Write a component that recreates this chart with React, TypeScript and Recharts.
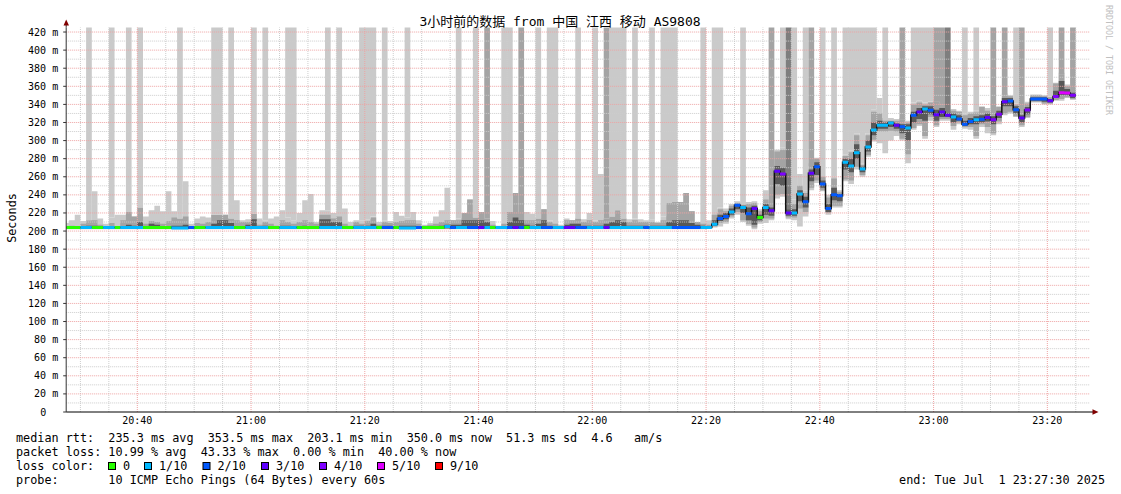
import React from 'react'
import { ComposedChart, Area, Line, XAxis, YAxis, ReferenceLine } from 'recharts'

// graph window: 3 hours ending 23:27:30, one bucket per minute
const START = '20:27:30'
const SPAN_MIN = 180
const TOP = 425

const X_LABELS = ['20:40', '21:00', '21:20', '21:40', '22:00', '22:20', '22:40', '23:00', '23:20']
const X_MINOR = ['20:30', '20:35', '20:45', '20:50', '20:55', '21:05', '21:10', '21:15', '21:25', '21:30', '21:35',
  '21:45', '21:50', '21:55', '22:05', '22:10', '22:15', '22:25', '22:30', '22:35', '22:45', '22:50', '22:55',
  '23:05', '23:10', '23:15', '23:25']
const Y_TICKS = [0, 20, 40, 60, 80, 100, 120, 140, 160, 180, 200, 220, 240, 260, 280, 300, 320, 340, 360, 380, 400, 420]
const Y_MINOR = [10, 30, 50, 70, 90, 110, 130, 150, 170, 190, 210, 230, 250, 270, 290, 310, 330, 350, 370, 390, 410]

// median rtt (ms) per minute bucket
const MEDIAN = [
  204, 204, 204, 204, 204, 204, 204, 204, 204, 204,
  204, 204, 204, 204, 204, 204, 204, 204, 204, 203.5,
  203.5, 203.5, 204, 204, 204, 204, 204, 204, 204, 204,
  204, 204, 204, 204, 204, 204, 204, 204, 204, 204,
  204, 204, 204, 204, 204, 204, 204, 204, 204, 204,
  204, 204, 204, 204, 204, 204, 204, 204, 204, 203.5,
  203.5, 203.5, 204, 204, 204, 204, 204, 205, 204, 204,
  204, 204, 204, 204, 204, 204, 204, 204, 204, 204,
  204, 204, 204, 204, 204, 204, 204, 204, 204, 204,
  204, 204, 204, 204, 204, 204, 204, 204, 204, 204,
  204, 204, 204, 204, 204, 204, 204, 204, 204, 204,
  204, 204, 204, 204, 207.5, 214, 216, 221, 228.5, 226,
  219, 225, 215, 226, 222.5, 266, 263, 220, 220, 241,
  232.5, 264, 271, 252, 225, 240, 239, 276, 272, 286.6,
  268.6, 293, 311.7, 317, 317, 319.4, 317, 315.4, 314, 328,
  331.6, 335, 333.5, 328.6, 331.6, 328, 326, 324, 318, 321,
  323, 323.7, 325.5, 323, 329, 343, 343.8, 334, 325, 333.8,
  346, 346, 346, 344, 348.6, 353, 352.6, 350,
]

// lost pings out of 10 (index into LOSS_COLORS)
const LOSS = [
  0, 0, 0, 1, 1, 0, 0, 1, 1, 0,
  1, 1, 1, 1, 0, 0, 0, 0, 0, 1,
  1, 1, 2, 0, 0, 1, 1, 1, 1, 1,
  0, 0, 1, 1, 1, 1, 0, 0, 1, 1,
  1, 0, 0, 0, 0, 1, 1, 1, 1, 0,
  0, 1, 1, 1, 1, 0, 2, 2, 0, 1,
  1, 1, 2, 0, 0, 0, 0, 1, 2, 1,
  1, 2, 2, 3, 1, 0, 1, 1, 2, 3,
  2, 0, 1, 1, 2, 2, 1, 1, 3, 3,
  2, 2, 1, 1, 1, 3, 1, 1, 1, 1,
  1, 1, 2, 1, 1, 1, 1, 2, 2, 2,
  2, 2, 1, 1, 1, 2, 2, 1, 2, 1,
  2, 3, 0, 1, 3, 3, 4, 3, 1, 1,
  2, 3, 2, 2, 2, 2, 2, 1, 1, 1,
  1, 1, 1, 1, 1, 1, 3, 2, 1, 2,
  3, 1, 2, 3, 3, 3, 1, 2, 2, 2,
  1, 2, 3, 4, 4, 3, 2, 2, 3, 4,
  2, 2, 2, 3, 4, 5, 5, 4,
]

// smoke reaching the top of the graph: 0 none, 1 light, 2 medium, 3 dark
const TALL = [
  0, 0, 0, 0, 1, 0, 0, 0, 1, 0,
  0, 1, 0, 1, 0, 0, 0, 0, 0, 0,
  1, 0, 0, 0, 0, 0, 1, 1, 0, 1,
  0, 0, 0, 1, 0, 1, 0, 0, 0, 1,
  1, 0, 0, 0, 0, 0, 1, 0, 1, 0,
  0, 0, 1, 1, 1, 0, 1, 0, 0, 0,
  1, 0, 0, 0, 0, 0, 0, 0, 0, 1,
  0, 0, 1, 0, 2, 0, 0, 1, 1, 0,
  2, 0, 0, 1, 0, 1, 1, 0, 0, 0,
  1, 0, 0, 1, 0, 2, 1, 1, 1, 0,
  1, 0, 0, 1, 0, 1, 1, 1, 0, 0,
  0, 0, 1, 0, 1, 1, 0, 0, 0, 1,
  0, 0, 0, 0, 2, 0, 1, 3, 1, 0,
  1, 2, 0, 1, 0, 1, 0, 1, 1, 1,
  1, 1, 1, 0, 1, 0, 0, 2, 0, 1,
  1, 1, 1, 2, 2, 3, 0, 0, 1, 0,
  1, 0, 0, 2, 0, 2, 0, 1, 2, 0,
  0, 0, 0, 1, 0, 2, 0, 2,
]

// outer (light) smoke band
const LO = [
  202, 202, 202, 202, 202, 202, 202, 202, 202, 202,
  202, 202, 202, 202, 202, 202, 202, 202, 202, 202,
  202, 202, 202, 202, 202, 202, 202, 202, 202, 202,
  202, 202, 202, 202, 202, 202, 202, 202, 202, 202,
  202, 202, 202, 202, 202, 202, 202, 202, 202, 202,
  202, 202, 202, 202, 202, 202, 202, 202, 202, 202,
  202, 202, 202, 202, 202, 202, 202, 202, 202, 202,
  202, 202, 202, 202, 202, 202, 202, 202, 202, 202,
  202, 202, 202, 202, 202, 202, 202, 202, 202, 202,
  202, 202, 202, 202, 202, 202, 202, 202, 202, 202,
  202, 202, 202, 202, 202, 202, 202, 202, 202, 202,
  202, 202, 202, 203, 204, 205, 208, 214, 218, 210,
  206, 202, 208, 209, 212, 236, 238, 213, 212, 205,
  216, 245, 253, 244, 218, 226, 226, 255, 252, 268,
  260, 282, 299, 297, 286, 300, 305, 300, 275, 312,
  316, 302, 322, 315, 322, 322, 312, 318, 313, 312,
  302, 315, 308, 306, 318, 328, 330, 326, 315, 325,
  342, 342, 340, 340, 344, 344, 347, 345,
]
const HI = [
  209, 212, 218, 211, 212, 244, 214, 208, 215, 218,
  218, 221, 216, 226, 216, 223, 228, 222, 244, 222,
  214, 255, 208, 214, 216, 215, 218, 218, 218, 214,
  234, 212, 213, 219, 214, 212, 214, 216, 223, 215,
  212, 220, 234, 241, 210, 223, 223, 220, 220, 225,
  210, 212, 212, 213, 216, 210, 212, 211, 221, 217,
  215, 221, 212, 207, 209, 216, 223, 248, 212, 214,
  220, 235, 215, 221, 214, 211, 206, 210, 221, 242,
  221, 221, 219, 214, 224, 212, 210, 207, 214, 212,
  214, 213, 220, 212, 263, 214, 216, 223, 214, 213,
  214, 213, 212, 213, 210, 216, 231, 232, 232, 242,
  222, 210, 210, 212, 220, 226, 225, 230, 233, 232,
  232, 233, 224, 245, 232, 290, 292, 232, 235, 263,
  245, 275, 281, 262, 240, 260, 245, 285, 289, 308,
  275, 308, 334, 347, 325, 325, 324, 325, 322, 342,
  344, 342, 343, 345, 342, 334, 335, 333, 330, 332,
  333, 338, 336, 330, 338, 352, 350, 341, 333, 343,
  351, 351, 350, 349, 364, 375, 362, 357,
]

// middle (medium grey) smoke band
const MLO = [
  202.5, 202.5, 202.5, 202.5, 202.5, 202.5, 202.5, 202.5, 202.5, 202.5,
  202.5, 202.5, 202.5, 202.5, 202.5, 202.5, 202.5, 202.5, 202.5, 202.5,
  202.5, 202.5, 202.5, 202.5, 202.5, 202.5, 202.5, 202.5, 202.5, 202.5,
  202.5, 202.5, 202.5, 202.5, 202.5, 202.5, 202.5, 202.5, 202.5, 202.5,
  202.5, 202.5, 202.5, 202.5, 202.5, 202.5, 202.5, 202.5, 202.5, 202.5,
  202.5, 202.5, 202.5, 202.5, 202.5, 202.5, 202.5, 202.5, 202.5, 202.5,
  202.5, 202.5, 202.5, 202.5, 202.5, 202.5, 202.5, 202.5, 202.5, 202.5,
  202.5, 202.5, 202.5, 202.5, 202.5, 202.5, 202.5, 202.5, 202.5, 202.5,
  202.5, 202.5, 202.5, 202.5, 202.5, 202.5, 202.5, 202.5, 202.5, 202.5,
  202.5, 202.5, 202.5, 202.5, 202.5, 202.5, 202.5, 202.5, 202.5, 202.5,
  202.5, 202.5, 202.5, 202.5, 202.5, 202.5, 202.5, 202.5, 202.5, 202.5,
  202.5, 202.5, 202.5, 203, 205, 209, 210, 216, 221, 212,
  208, 204, 210, 214, 214, 240, 241, 215, 215, 225,
  221, 248, 256, 245, 220, 228, 228, 257, 256, 271,
  262, 284, 301, 310, 310, 311, 310, 302, 285, 314,
  318, 305, 326, 317, 324, 324, 316, 320, 315, 315,
  305, 318, 315, 308, 321, 330, 332, 327, 317, 326,
  343, 343, 341, 341, 345, 346, 348, 346,
]
const MHI = [
  204, 206, 205, 208, 212, 212, 207, 205, 209, 205,
  212, 221, 216, 226, 208, 211, 210, 208, 211, 215,
  214, 216, 205, 209, 208, 210, 218, 218, 218, 214,
  212, 210, 210, 219, 207, 210, 208, 206, 212, 210,
  208, 210, 212, 210, 208, 218, 218, 214, 216, 208,
  206, 210, 208, 211, 215, 207, 210, 209, 210, 211,
  212, 212, 208, 206, 207, 208, 210, 212, 212, 212,
  220, 235, 215, 221, 214, 207, 205, 208, 221, 242,
  221, 212, 212, 214, 224, 210, 208, 205, 212, 212,
  214, 210, 212, 210, 212, 214, 216, 223, 214, 210,
  212, 210, 210, 210, 209, 212, 231, 232, 232, 242,
  222, 210, 208, 207, 218, 224, 222, 228, 231, 229,
  230, 231, 222, 235, 230, 288, 290, 228, 230, 250,
  242, 272, 280, 260, 237, 258, 243, 283, 287, 306,
  273, 306, 332, 330, 322, 322, 322, 323, 320, 340,
  342, 340, 342, 343, 340, 332, 333, 332, 328, 330,
  331, 337, 333, 328, 337, 350, 349, 340, 332, 341,
  350, 350, 349, 348, 363, 373, 360, 356,
]

// inner (dark) smoke band
const DLO = [
  203, 203, 203, 203, 203, 203, 203, 203, 203, 203,
  203, 203, 203, 203, 203, 203, 203, 203, 203, 203,
  203, 203, 203, 203, 203, 203, 203, 203, 203, 203,
  203, 203, 203, 203, 203, 203, 203, 203, 203, 203,
  203, 203, 203, 203, 203, 203, 203, 203, 203, 203,
  203, 203, 203, 203, 203, 203, 203, 203, 203, 203,
  203, 203, 203, 203, 203, 203, 203, 203, 203, 203,
  203, 203, 203, 203, 203, 203, 203, 203, 203, 203,
  203, 203, 203, 203, 203, 203, 203, 203, 203, 203,
  203, 203, 203, 203, 203, 203, 203, 203, 203, 203,
  203, 203, 203, 203, 203, 203, 203, 203, 203, 203,
  203, 203, 203, 203, 206, 211, 213, 218, 224, 220,
  212, 207, 212, 218, 217, 252, 250, 217, 217, 233,
  226, 255, 262, 248, 221, 234, 233, 268, 265, 280,
  265, 288, 306, 313, 313, 315, 313, 308, 300, 320,
  324, 322, 329, 322, 326, 326, 320, 322, 316, 318,
  318, 320, 321, 318, 325, 338, 338, 330, 320, 329,
  344, 344, 343, 342, 347, 350, 350, 347,
]
const DHI = [
  203, 204, 204, 205, 206, 206, 204, 204, 205, 204,
  205, 207, 206, 210, 204, 208, 207, 204, 205, 206,
  206, 207, 204, 204, 205, 205, 208, 212, 212, 209,
  205, 205, 207, 213, 205, 206, 205, 204, 206, 206,
  205, 205, 206, 205, 205, 213, 213, 210, 210, 205,
  204, 206, 206, 206, 208, 204, 206, 206, 205, 206,
  206, 206, 205, 204, 205, 205, 206, 207, 207, 207,
  212, 212, 212, 212, 210, 205, 204, 205, 210, 215,
  212, 207, 206, 208, 212, 206, 205, 204, 207, 208,
  208, 206, 206, 206, 206, 208, 210, 212, 210, 206,
  206, 206, 206, 206, 206, 206, 210, 212, 212, 212,
  209, 207, 206, 205, 212, 218, 220, 225, 230, 228,
  226, 228, 218, 230, 226, 272, 270, 224, 224, 245,
  238, 268, 276, 256, 230, 248, 241, 280, 280, 296,
  271, 300, 320, 322, 320, 321, 319, 318, 318, 332,
  336, 338, 338, 334, 336, 331, 330, 328, 322, 325,
  327, 328, 330, 327, 333, 347, 347, 338, 328, 337,
  348, 348, 348, 346, 355, 366, 357, 353,
]

const LOSS_COLORS = ['#26ff00', '#00b8ff', '#0059ff', '#5e00ff', '#7e00ff', '#dd00ff', '#ff0000']
const LOSS_LABELS = ['0', '1/10', '2/10', '3/10', '4/10', '5/10', '9/10']
const SHADES = ['#cacaca', '#a4a4a4', '#7e7e7e', '#585858']

const FONT = "'DejaVu Sans Mono', 'Noto Sans CJK SC', monospace"
const MAJOR_GRID = '#eea3a3'
const MINOR_GRID = '#cdcdcd'
const LEGEND_SIZE = 11.8

function toMin(label: string) {
  const [h, m] = label.split(':').map(Number)
  const [sh, sm, ss] = START.split(':').map(Number)
  return h * 60 + m - (sh * 60 + sm + ss / 60)
}

const X_TICKS = X_LABELS.map(toMin)

// rows at each bucket's left and right edge so every series draws as steps;
// a third row per bucket breaks the loss-coloured segments so the joins stay black
const rows: any[] = []
MEDIAN.forEach((med, j) => {
  const edges = [Math.max(0, j - 0.5), j + 0.5, j + 0.5]
  edges.forEach((t, e) => {
    const row: any = {
      t,
      med,
      light: [LO[j], HI[j]],
      mid: [MLO[j], MHI[j]],
      dark: [DLO[j], DHI[j]],
      tall1: TALL[j] === 1 ? [HI[j], TOP] : [HI[j], HI[j]],
      tall2: TALL[j] === 2 ? [MHI[j], TOP] : [MHI[j], MHI[j]],
      tall3: TALL[j] === 3 ? [DHI[j], TOP] : [DHI[j], DHI[j]],
    }
    LOSS_COLORS.forEach((_, k) => {
      row['loss' + k] = e < 2 && LOSS[j] === k ? med : null
    })
    rows.push(row)
  })
})

const YTick = (props: any) => {
  const v = props.payload.value
  return (
    <text x={props.x} y={props.y} dy="0.35em" textAnchor="end" fontSize={10} fontFamily={FONT} fill="#000"
      style={{ whiteSpace: 'pre' }}>
      {v === 0 ? '0  ' : `${v} m`}
    </text>
  )
}

const legendLines = [
  'median rtt:  235.3 ms avg  353.5 ms max  203.1 ms min  350.0 ms now  51.3 ms sd  4.6   am/s',
  'packet loss: 10.99 % avg  43.33 % max  0.00 % min  40.00 % now',
]
const BOX_X = [108, 144, 202.5, 261, 319, 377, 435]

export default function App() {
  const textStyle = { whiteSpace: 'pre' as const }
  return (
    <div style={{ position: 'absolute', left: 0, top: 0, width: 1121, height: 494, background: '#fff' }}>
      <ComposedChart width={1121} height={494} data={rows} margin={{ top: 27.5, right: 31, bottom: 62, left: 0 }}>
        <XAxis
          type="number"
          dataKey="t"
          domain={[0, SPAN_MIN]}
          ticks={X_TICKS}
          tickFormatter={(v: number) => X_LABELS[X_TICKS.indexOf(v)] ?? ''}
          tickLine={false}
          tickSize={0}
          tickMargin={5}
          height={20}
          axisLine={{ stroke: '#000' }}
          tick={{ fontSize: 10, fontFamily: FONT, fill: '#000' }}
        />
        <YAxis
          type="number"
          domain={[0, TOP]}
          ticks={Y_TICKS}
          width={66.2}
          tickSize={3}
          tickMargin={5}
          axisLine={{ stroke: '#333' }}
          tickLine={{ stroke: '#333' }}
          tick={<YTick />}
          interval={0}
        />
        <Area dataKey="light" type="linear" fill={SHADES[0]} fillOpacity={1} stroke="none" isAnimationActive={false} />
        <Area dataKey="mid" type="linear" fill={SHADES[1]} fillOpacity={1} stroke="none" isAnimationActive={false} />
        <Area dataKey="dark" type="linear" fill={SHADES[3]} fillOpacity={1} stroke="none" isAnimationActive={false} />
        <Area dataKey="tall1" type="linear" fill={SHADES[0]} fillOpacity={1} stroke="none" isAnimationActive={false} />
        <Area dataKey="tall2" type="linear" fill={SHADES[1]} fillOpacity={1} stroke="none" isAnimationActive={false} />
        <Area dataKey="tall3" type="linear" fill={SHADES[2]} fillOpacity={1} stroke="none" isAnimationActive={false} />
        {Y_MINOR.map(v => (
          <ReferenceLine key={'ym' + v} y={v} stroke={MINOR_GRID} strokeDasharray="1 1" />
        ))}
        {X_MINOR.map(l => (
          <ReferenceLine key={'xm' + l} x={toMin(l)} stroke={MINOR_GRID} strokeDasharray="1 1" />
        ))}
        {Y_TICKS.filter(v => v > 0).map(v => (
          <ReferenceLine key={'yM' + v} y={v} stroke={MAJOR_GRID} strokeDasharray="1 1" />
        ))}
        {X_LABELS.map(l => (
          <ReferenceLine key={'xM' + l} x={toMin(l)} stroke={MAJOR_GRID} strokeDasharray="1 1" />
        ))}
        <Line dataKey="med" type="linear" stroke="#111" strokeWidth={1.5} dot={false} activeDot={false}
          isAnimationActive={false} />
        {LOSS_COLORS.map((c, k) => (
          <Line key={'loss' + k} dataKey={'loss' + k} type="linear" stroke={c} strokeWidth={3} dot={false}
            activeDot={false} connectNulls={false} isAnimationActive={false} />
        ))}
      </ComposedChart>

      <svg width={1121} height={494} style={{ position: 'absolute', left: 0, top: 0, pointerEvents: 'none' }}
        fontFamily={FONT}>
        <text x={560} y={26} textAnchor="middle" fontSize={13} fill="#000">
          3小时前的数据 from 中国 江西 移动 AS9808
        </text>
        <text transform="translate(15.5,218) rotate(-90)" textAnchor="middle" fontSize={LEGEND_SIZE} fill="#000">
          Seconds
        </text>
        <text transform="translate(1106,5) rotate(90)" fontSize={8.3} fill="#c0c0c0" style={textStyle}>
          RRDTOOL / TOBI OETIKER
        </text>
        <line x1={66.2} y1={27.5} x2={66.2} y2={24} stroke="#333" />
        <polygon points="63.5,25.5 69,25.5 66.2,19.5" fill="#800000" />
        <line x1={1090} y1={412} x2={1093} y2={412} stroke="#000" />
        <polygon points="1092.5,409.3 1092.5,414.7 1098.5,412" fill="#800000" />
        {legendLines.map((s, i) => (
          <text key={i} x={16} y={442 + i * 14} fontSize={LEGEND_SIZE} fill="#000" style={textStyle}>{s}</text>
        ))}
        <text x={16} y={470} fontSize={LEGEND_SIZE} fill="#000" style={textStyle}>loss color:</text>
        {LOSS_COLORS.map((c, k) => (
          <g key={'lg' + k}>
            <rect x={BOX_X[k] + 0.5} y={462.5} width={7} height={7} fill={c} stroke="#000" strokeWidth={1} />
            <text x={BOX_X[k] + 15} y={470} fontSize={LEGEND_SIZE} fill="#000">{LOSS_LABELS[k]}</text>
          </g>
        ))}
        <text x={16} y={484} fontSize={LEGEND_SIZE} fill="#000" style={textStyle}>
          {'probe:       10 ICMP Echo Pings (64 Bytes) every 60s'}
        </text>
        <text x={1105} y={484} textAnchor="end" fontSize={LEGEND_SIZE} fill="#000" style={textStyle}>
          {'end: Tue Jul  1 23:27:30 2025'}
        </text>
      </svg>
    </div>
  )
}
